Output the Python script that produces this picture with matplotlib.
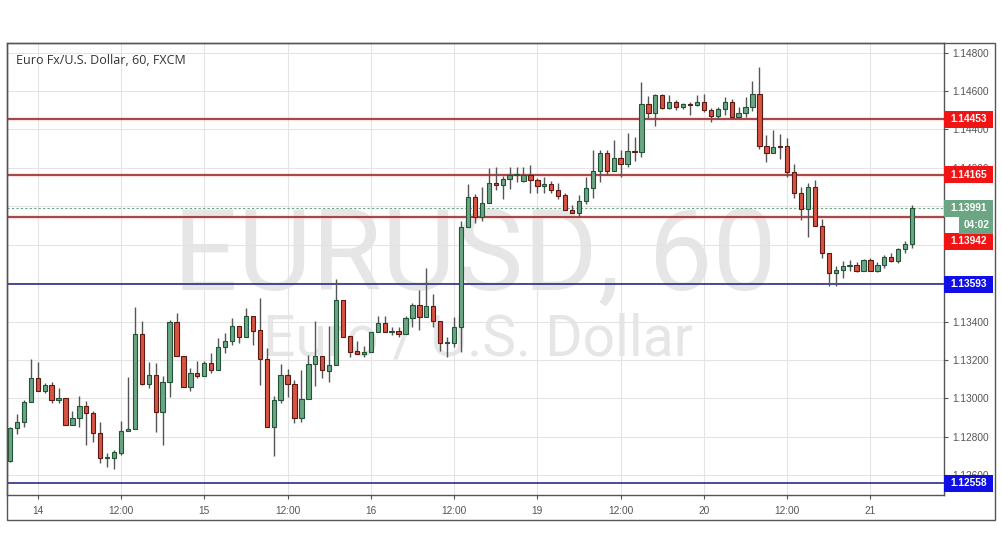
import numpy as np
import matplotlib
matplotlib.use('Agg')
import matplotlib.pyplot as plt
from matplotlib.patches import Rectangle
import matplotlib.transforms as mtransforms

# hourly EUR/USD candles
opens = [1.12675, 1.12843, 1.12878, 1.12979, 1.13104, 1.13036, 1.13067, 1.12989, 1.13000, 1.12862,
         1.12895, 1.12958, 1.12921, 1.12817, 1.12690, 1.12690, 1.12715, 1.12828, 1.12838, 1.13334,
         1.13076, 1.13119, 1.12927, 1.13083, 1.13395, 1.13218, 1.13060, 1.13130, 1.13114, 1.13183,
         1.13145, 1.13265, 1.13296, 1.13376, 1.13320, 1.13428, 1.13354, 1.13203, 1.12849, 1.12991,
         1.13119, 1.13074, 1.12895, 1.12994, 1.13177, 1.13220, 1.13143, 1.13173, 1.13512, 1.13324,
         1.13246, 1.13229, 1.13239, 1.13343, 1.13390, 1.13346, 1.13352, 1.13333, 1.13416, 1.13486,
         1.13421, 1.13480, 1.13402, 1.13286, 1.13289, 1.13369, 1.13890, 1.14050, 1.13945, 1.14015,
         1.14119, 1.14109, 1.14140, 1.14161, 1.14131, 1.14163, 1.14137, 1.14105, 1.14114, 1.14084,
         1.14057, 1.13980, 1.13966, 1.14029, 1.14093, 1.14183, 1.14276, 1.14185, 1.14250, 1.14218,
         1.14288, 1.14281, 1.14532, 1.14484, 1.14579, 1.14510, 1.14544, 1.14515, 1.14531, 1.14526,
         1.14541, 1.14501, 1.14470, 1.14505, 1.14544, 1.14463, 1.14484, 1.14518, 1.14583, 1.14315,
         1.14279, 1.14315, 1.14315, 1.14177, 1.14067, 1.13984, 1.14099, 1.13899, 1.13755, 1.13651,
         1.13668, 1.13689, 1.13694, 1.13664, 1.13720, 1.13664, 1.13694, 1.13734, 1.13713, 1.13776,
         1.13803]
highs = [1.12852, 1.12918, 1.12991, 1.13204, 1.13190, 1.13078, 1.13084, 1.13053, 1.13000, 1.12935,
         1.13012, 1.12986, 1.12935, 1.12876, 1.12713, 1.12730, 1.12881, 1.13109, 1.13477, 1.13402,
         1.13189, 1.13185, 1.13116, 1.13407, 1.13442, 1.13218, 1.13156, 1.13192, 1.13195, 1.13234,
         1.13312, 1.13338, 1.13416, 1.13376, 1.13471, 1.13428, 1.13520, 1.13260, 1.13012, 1.13178,
         1.13151, 1.13095, 1.13147, 1.13225, 1.13402, 1.13220, 1.13378, 1.13621, 1.13512, 1.13324,
         1.13300, 1.13274, 1.13343, 1.13430, 1.13428, 1.13372, 1.13369, 1.13428, 1.13494, 1.13564,
         1.13677, 1.13543, 1.13402, 1.13320, 1.13421, 1.13925, 1.14116, 1.14064, 1.14102, 1.14197,
         1.14203, 1.14157, 1.14203, 1.14203, 1.14206, 1.14213, 1.14149, 1.14154, 1.14131, 1.14119,
         1.14067, 1.14006, 1.14058, 1.14151, 1.14293, 1.14293, 1.14293, 1.14345, 1.14293, 1.14380,
         1.14362, 1.14649, 1.14574, 1.14584, 1.14584, 1.14579, 1.14553, 1.14539, 1.14544, 1.14579,
         1.14584, 1.14510, 1.14518, 1.14567, 1.14557, 1.14518, 1.14567, 1.14652, 1.14727, 1.14371,
         1.14397, 1.14376, 1.14354, 1.14218, 1.14102, 1.14119, 1.14137, 1.13932, 1.13755, 1.13689,
         1.13715, 1.13720, 1.13711, 1.13723, 1.13729, 1.13711, 1.13746, 1.13755, 1.13781, 1.13820,
         1.14006]
lows = [1.12669, 1.12814, 1.12852, 1.12979, 1.13036, 1.13029, 1.12974, 1.12974, 1.12859, 1.12862,
        1.12852, 1.12755, 1.12774, 1.12664, 1.12643, 1.12631, 1.12703, 1.12828, 1.12838, 1.13069,
        1.13055, 1.12826, 1.12755, 1.13008, 1.13218, 1.13060, 1.13039, 1.13104, 1.13114, 1.13130,
        1.13145, 1.13234, 1.13277, 1.13286, 1.13320, 1.13277, 1.13069, 1.12849, 1.12701, 1.12974,
        1.13005, 1.12869, 1.12875, 1.12994, 1.13064, 1.13104, 1.13086, 1.13173, 1.13320, 1.13213,
        1.13229, 1.13213, 1.13239, 1.13343, 1.13346, 1.13329, 1.13320, 1.13333, 1.13372, 1.13355,
        1.13421, 1.13372, 1.13246, 1.13216, 1.13268, 1.13242, 1.13890, 1.13914, 1.13925, 1.14015,
        1.14084, 1.14036, 1.14088, 1.14128, 1.14128, 1.14067, 1.14067, 1.14070, 1.14067, 1.14039,
        1.13980, 1.13963, 1.13945, 1.14010, 1.14041, 1.14128, 1.14168, 1.14185, 1.14154, 1.14206,
        1.14237, 1.14255, 1.14458, 1.14418, 1.14505, 1.14505, 1.14501, 1.14505, 1.14475, 1.14522,
        1.14492, 1.14437, 1.14453, 1.14475, 1.14458, 1.14463, 1.14463, 1.14497, 1.14296, 1.14229,
        1.14279, 1.14246, 1.14151, 1.14044, 1.13928, 1.13841, 1.13899, 1.13729, 1.13584, 1.13584,
        1.13625, 1.13664, 1.13659, 1.13664, 1.13664, 1.13659, 1.13677, 1.13709, 1.13706, 1.13758,
        1.13781]
closes = [1.12843, 1.12878, 1.12979, 1.13104, 1.13036, 1.13067, 1.12989, 1.13001, 1.12862, 1.12895,
          1.12958, 1.12921, 1.12817, 1.12690, 1.12694, 1.12718, 1.12828, 1.12838, 1.13334, 1.13076,
          1.13119, 1.12927, 1.13083, 1.13395, 1.13218, 1.13060, 1.13130, 1.13114, 1.13183, 1.13145,
          1.13265, 1.13296, 1.13376, 1.13321, 1.13428, 1.13352, 1.13203, 1.12849, 1.12991, 1.13119,
          1.13074, 1.12895, 1.12994, 1.13177, 1.13220, 1.13147, 1.13173, 1.13512, 1.13320, 1.13242,
          1.13229, 1.13242, 1.13343, 1.13390, 1.13346, 1.13352, 1.13333, 1.13416, 1.13486, 1.13421,
          1.13480, 1.13402, 1.13286, 1.13291, 1.13369, 1.13890, 1.14050, 1.13945, 1.14015, 1.14119,
          1.14109, 1.14140, 1.14161, 1.14163, 1.14163, 1.14137, 1.14105, 1.14114, 1.14084, 1.14053,
          1.13980, 1.13966, 1.14029, 1.14093, 1.14183, 1.14276, 1.14185, 1.14250, 1.14218, 1.14288,
          1.14281, 1.14532, 1.14484, 1.14579, 1.14510, 1.14544, 1.14515, 1.14531, 1.14527, 1.14541,
          1.14501, 1.14470, 1.14505, 1.14544, 1.14463, 1.14484, 1.14518, 1.14583, 1.14315, 1.14279,
          1.14310, 1.14310, 1.14177, 1.14067, 1.13984, 1.14099, 1.13899, 1.13755, 1.13651, 1.13668,
          1.13689, 1.13694, 1.13664, 1.13720, 1.13664, 1.13694, 1.13734, 1.13713, 1.13776, 1.13803,
          1.13989]

tick_pos = [4, 16, 28, 40, 52, 64, 76, 88, 100, 112, 124]
tick_labels = ['14', '12:00', '15', '12:00', '16', '12:00', '19', '12:00', '20', '12:00', '21']
price_ticks = [1.126, 1.128, 1.130, 1.132, 1.134, 1.136, 1.138, 1.140, 1.142, 1.144, 1.146, 1.148]

resistance = [1.14453, 1.14165, 1.13942]
support = [1.13593, 1.12558]
last_price = 1.13991
countdown = '04:02'

o = np.array(opens); h = np.array(highs); l = np.array(lows); c = np.array(closes)
x = np.arange(len(o))
up = c >= o

fig = plt.figure(figsize=(10.02, 5.57), dpi=100)
W, H = 1002, 557
ax = fig.add_axes([6.5 / W, (H - 495) / H, (944 - 6.5) / W, (495 - 42.5) / H])

ymin, ymax = 1.124964, 1.148531
ax.set_xlim(-0.5, 134.6)
ax.set_ylim(ymin, ymax)
px = (ymax - ymin) / (495 - 42.5)  # price per pixel

# watermark
ax.text(0.5, 0.453, 'EURUSD, 60', transform=ax.transAxes, ha='center', va='baseline',
        fontsize=82, color='#e6e6e6', family='Roboto', zorder=0)
ax.text(0.503, 0.309, 'Euro / U.S. Dollar', transform=ax.transAxes, ha='center', va='baseline',
        fontsize=41, color='#e6e6e6', family='Roboto', zorder=0)

ax.text(9 / 937.5, 1 - 18 / 452.5, 'Euro Fx/U.S. Dollar, 60, FXCM', transform=ax.transAxes,
        ha='left', va='center', fontsize=9, color='#333333', family='Open Sans', zorder=6)

# grid
ax.set_xticks(tick_pos)
ax.set_xticklabels(tick_labels)
ax.set_yticks(price_ticks)
ax.set_yticklabels(['%.5f' % p for p in price_ticks])
ax.grid(True, color='#e4e4e4', lw=0.8)
ax.set_axisbelow(True)
ax.yaxis.tick_right()
ax.tick_params(axis='both', colors='#555555', labelcolor='#555555', labelsize=7.3, length=3, width=0.8)
ax.tick_params(axis='x', pad=5)
ax.tick_params(axis='y', pad=3)
for lab in ax.get_xticklabels() + ax.get_yticklabels():
    lab.set_family('Liberation Sans')
for s in ax.spines.values():
    s.set_color('#555555')
    s.set_linewidth(1)

# levels
for v in resistance:
    ax.axhline(v, color='#ffc0c0', lw=3, alpha=0.5, zorder=1)
    ax.axhline(v, color='#8e1a1a', lw=1.1, zorder=2)
for v in support:
    ax.axhline(v, color='#1a1a80', lw=1.1, zorder=2)
ax.axhline(last_price, color='#6ba583', lw=0.8, ls=(0, (2, 2)), zorder=2)

# candles
ax.vlines(x, l, h, color='#555555', lw=1, zorder=3)
body_lo = np.minimum(o, c)
body_h = np.maximum(np.abs(c - o), px * 0.9)
ax.bar(x, body_h, bottom=body_lo, width=0.62,
       color=np.where(up, '#6ba583', '#d75442'),
       edgecolor=np.where(up, '#225437', '#5b1a13'), lw=0.8, zorder=4)

# price labels on the right
trans = mtransforms.blended_transform_factory(ax.transAxes, ax.transData)
bw = 49 / 937.5
bh = 17 * px


def price_tag(value, text, color, shift=0, left=0.0):
    yc = value + shift * px
    ax.add_patch(Rectangle((1 + left, yc - bh / 2), bw - left, bh, transform=trans,
                           facecolor=color, edgecolor='none', clip_on=False, zorder=8))
    ax.text(1 + left + (bw - left) / 2 + 0.5 / 937.5, yc, text, transform=trans, ha='center', va='center',
            color='white', fontsize=7.3, fontweight='bold', family='Liberation Sans',
            clip_on=False, zorder=9)


price_tag(resistance[0], '%.5f' % resistance[0], '#f01414')
price_tag(resistance[1], '%.5f' % resistance[1], '#f01414')
price_tag(resistance[2], '%.5f' % resistance[2], '#f01414', shift=-24)
price_tag(last_price, '%.5f' % last_price, '#6ba583')
price_tag(last_price, countdown, '#6ba583', shift=-17, left=15 / 937.5)
for v in support:
    price_tag(v, '%.5f' % v, '#1010e6')

# outer frame
fig.add_artist(Rectangle((6.5 / W, 1 - 520 / H), (995 - 6.5) / W, (520 - 42.5) / H,
                         transform=fig.transFigure, fill=False, ec='#555555', lw=1))

fig.savefig('out.png', dpi=100)
